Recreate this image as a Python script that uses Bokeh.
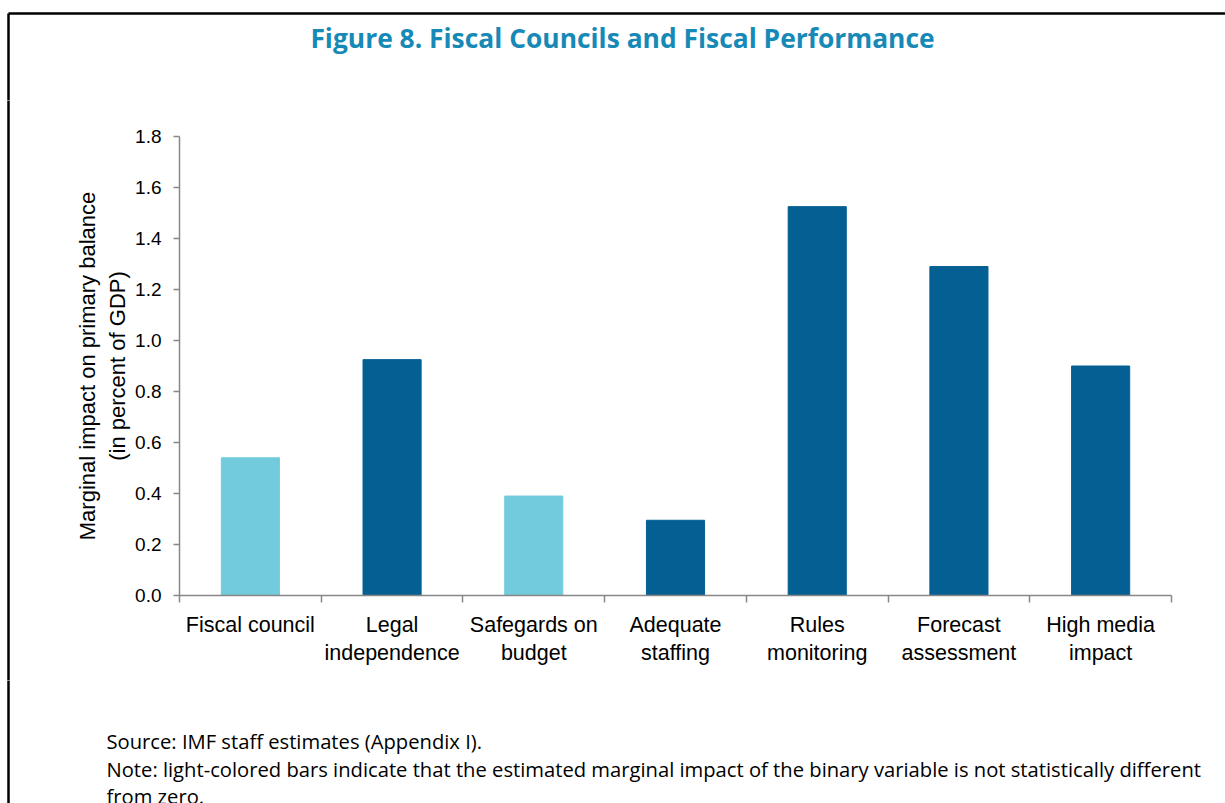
from bokeh.plotting import figure
from bokeh.layouts import column, row
from bokeh.models import ColumnDataSource, Range1d, FixedTicker, NumeralTickFormatter
from bokeh.core.properties import value
from bokeh.embed import file_html
from bokeh.resources import INLINE

# ---- data ----
categories = ["Fiscal council", "Legal\nindependence", "Safegards on\nbudget",
              "Adequate\nstaffing", "Rules\nmonitoring", "Forecast\nassessment",
              "High media\nimpact"]
impact = [0.54, 0.925, 0.39, 0.295, 1.525, 1.29, 0.90]
significant = [False, True, False, True, True, True, True]
y_ticks = [0.0, 0.2, 0.4, 0.6, 0.8, 1.0, 1.2, 1.4, 1.6, 1.8]
title_text = "Figure 8. Fiscal Councils and Fiscal Performance"
y_label = "Marginal impact on primary balance\n(in percent of GDP)"
source_text = "Source: IMF staff estimates (Appendix I)."
note_lines = ["Note: light-colored bars indicate that the estimated marginal impact of the binary variable is not statistically different",
              "from zero."]

DARK = "#045F92"
LIGHT = "#72CBDD"
AXIS = "#878787"
TITLE_C = "#1789B6"
BORDER_W = 2.5

PAGE_W, PAGE_H = 1225, 803
TOP_H = 100          # title strip
MID_H = 580          # chart strip
LEFT_W = 60          # left strip holding the box border
BOT_H = PAGE_H - TOP_H - MID_H


def blank(width, height, x0, x1, y0, y1):
    f = figure(width=width, height=height, output_backend="svg", toolbar_location=None,
               x_range=Range1d(x0, x1), y_range=Range1d(y1, y0),
               x_axis_location=None, y_axis_location=None,
               min_border=0, min_border_left=0, min_border_right=0,
               min_border_top=0, min_border_bottom=0, frame_align=False)
    f.outline_line_color = None
    f.xgrid.visible = False
    f.ygrid.visible = False
    return f


# ---- title strip (page pixel coordinates) ----
top = blank(PAGE_W, TOP_H, 0, PAGE_W, 0, TOP_H)
top.line(x=[8, PAGE_W + 10], y=[13, 13], line_color="black", line_width=BORDER_W)
top.line(x=[8, 8], y=[13, TOP_H + 10], line_color="black", line_width=BORDER_W)
top.text(x=[622], y=[37], text=[title_text], text_align="center", text_baseline="middle",
         text_font=value("Open Sans"), text_font_style="bold",
         text_font_size=value("26.4px"), text_color=TITLE_C)

# ---- left strip ----
left = blank(LEFT_W, MID_H, 0, LEFT_W, TOP_H, TOP_H + MID_H)
left.line(x=[8, 8], y=[TOP_H - 10, TOP_H + MID_H + 10], line_color="black", line_width=BORDER_W)

# ---- chart ----
xs = list(range(len(categories)))
colors = [DARK if s else LIGHT for s in significant]
src = ColumnDataSource(dict(x=xs, top=impact, color=colors))

p = figure(width=PAGE_W - LEFT_W, height=MID_H, output_backend="svg", toolbar_location=None,
           x_range=Range1d(-0.5, len(categories) - 0.5), y_range=Range1d(0, 1.8),
           min_border_left=179 - LEFT_W, min_border_right=54, min_border_top=36,
           min_border_bottom=MID_H - 36 - 459, frame_align=False)
p.outline_line_color = None
p.xgrid.visible = False
p.ygrid.visible = False

p.vbar(x="x", top="top", bottom=0, width=0.41, color="color", source=src)

xa = p.xaxis[0]
xa.ticker = FixedTicker(ticks=xs, minor_ticks=[i - 0.5 for i in range(len(categories) + 1)])
xa.major_label_overrides = {i: c for i, c in enumerate(categories)}
xa.major_tick_out = 0
xa.major_tick_in = 0
xa.minor_tick_out = 7
xa.minor_tick_in = 0
xa.minor_tick_line_color = AXIS
xa.minor_tick_line_width = 1.5
xa.axis_line_color = AXIS
xa.axis_line_width = 1.5
xa.major_label_text_font = "Liberation Sans"
xa.major_label_text_font_size = "21.5px"
xa.major_label_text_color = "black"
xa.major_label_standoff = 10

ya = p.yaxis[0]
ya.ticker = FixedTicker(ticks=y_ticks, minor_ticks=[])
ya.formatter = NumeralTickFormatter(format="0.0")
ya.major_tick_out = 6
ya.major_tick_in = 0
ya.major_tick_line_color = AXIS
ya.major_tick_line_width = 1.5
ya.axis_line_color = AXIS
ya.axis_line_width = 1.5
ya.major_label_text_font = "Liberation Sans"
ya.major_label_text_font_size = "19px"
ya.major_label_text_color = "black"
ya.major_label_standoff = 12
ya.axis_label = y_label
ya.axis_label_text_font = "Liberation Sans"
ya.axis_label_text_font_size = "22px"
ya.axis_label_text_font_style = "normal"
ya.axis_label_text_color = "black"
ya.axis_label_standoff = 2

# ---- notes strip (page pixel coordinates) ----
y_base = TOP_H + MID_H
bot = blank(PAGE_W, BOT_H, 0, PAGE_W, y_base, PAGE_H)
bot.line(x=[8, 8], y=[y_base - 10, PAGE_H + 10], line_color="black", line_width=BORDER_W)
bot.text(x=[106, 106, 106], y=[740, 768, 795], text=[source_text] + note_lines,
         text_align="left", text_baseline="middle",
         text_font=value("Open Sans"), text_font_size=value("20.2px"), text_color="black")

layout = column(top, row(left, p), bot)
open("out.html", "w").write(file_html(layout, INLINE))
